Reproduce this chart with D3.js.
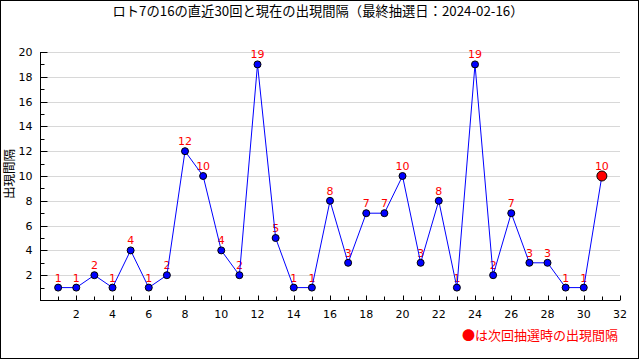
<!DOCTYPE html>
<html>
<head>
<meta charset="utf-8">
<script src="https://cdn.jsdelivr.net/npm/d3@7"></script>
<style>
  body { margin: 0; background: #fff; }
  svg { display: block; }
</style>
</head>
<body>
<div id="chart"></div>
<script>
const draws = [1,2,3,4,5,6,7,8,9,10,11,12,13,14,15,16,17,18,19,20,21,22,23,24,25,26,27,28,29,30];
const intervals = [1,1,2,1,4,1,2,12,10,4,2,19,5,1,1,8,3,7,7,10,3,8,1,19,2,7,3,3,1,1];
const nextDraw = 31;
const nextInterval = 10;
const yTicks = [2,4,6,8,10,12,14,16,18,20];
const xTicks = [2,4,6,8,10,12,14,16,18,20,22,24,26,28,30,32];

const width = 640;
const height = 360;
const margin = {top: 52, right: 20, bottom: 60, left: 40};

const svg = d3.select("#chart")
  .append("svg")
  .attr("width", width)
  .attr("height", height);

// frame
svg.append("rect")
  .attr("x", 0.5).attr("y", 0.5)
  .attr("width", 638).attr("height", 358)
  .attr("fill", "none")
  .attr("stroke", "#000");

const x = d3.scaleLinear().domain([0, 32]).range([margin.left, width - margin.right]);
const y = d3.scaleLinear().domain([0, 20]).range([height - margin.bottom, margin.top]);

const jp = "'Noto Sans CJK JP', sans-serif";
const num = "'DejaVu Sans', sans-serif";

svg.append("text")
  .attr("x", 318).attr("y", 16)
  .attr("text-anchor", "middle")
  .style("font-family", jp)
  .style("font-size", "13.3px")
  .text("ロト7の16の直近30回と現在の出現間隔（最終抽選日：2024-02-16）");

// grid
svg.append("g")
  .selectAll("line")
  .data(yTicks)
  .enter().append("line")
  .attr("x1", x(0) + 7).attr("x2", x(32))
  .attr("y1", d => Math.round(y(d)) + 0.5)
  .attr("y2", d => Math.round(y(d)) + 0.5)
  .attr("stroke", "#d8d8d8");

// y axis
const yAxis = svg.append("g")
  .attr("transform", `translate(${x(0) + 0.5},0)`);
yAxis.append("line")
  .attr("y1", y(20)).attr("y2", y(0))
  .attr("stroke", "#000");
yAxis.selectAll(".maj")
  .data(yTicks)
  .enter().append("line")
  .attr("x1", 0).attr("x2", 7)
  .attr("y1", d => Math.round(y(d)) + 0.5)
  .attr("y2", d => Math.round(y(d)) + 0.5)
  .attr("stroke", "#000");
yAxis.selectAll(".min")
  .data(d3.range(1, 20, 2))
  .enter().append("line")
  .attr("x1", 0).attr("x2", 4)
  .attr("y1", d => Math.round(y(d)) + 0.5)
  .attr("y2", d => Math.round(y(d)) + 0.5)
  .attr("stroke", "#000");
yAxis.selectAll("text")
  .data(yTicks)
  .enter().append("text")
  .attr("x", -8)
  .attr("y", d => y(d) + 4)
  .attr("text-anchor", "end")
  .style("font-family", num)
  .style("font-size", "11px")
  .text(d => d);

// x axis
const xAxis = svg.append("g")
  .attr("transform", `translate(0,${Math.round(y(0)) + 0.5})`);
xAxis.append("line")
  .attr("x1", x(0)).attr("x2", x(32))
  .attr("stroke", "#000");
xAxis.selectAll(".tick")
  .data(d3.range(1, 33))
  .enter().append("line")
  .attr("x1", d => Math.round(x(d)) + 0.5)
  .attr("x2", d => Math.round(x(d)) + 0.5)
  .attr("y1", 0)
  .attr("y2", d => d % 2 === 0 ? -5 : -4)
  .attr("stroke", "#000");
xAxis.selectAll("text")
  .data(xTicks)
  .enter().append("text")
  .attr("x", d => x(d))
  .attr("y", 17)
  .attr("text-anchor", "middle")
  .style("font-family", num)
  .style("font-size", "11px")
  .text(d => d);

// y label
svg.append("text")
  .attr("transform", "translate(14,174) rotate(-90)")
  .attr("text-anchor", "middle")
  .style("font-family", jp)
  .style("font-size", "12.5px")
  .text("出現間隔");

const pts = draws.map((d, i) => ({x: d, v: intervals[i]}));
const all = pts.concat([{x: nextDraw, v: nextInterval, next: true}]);

// value labels (under the line)
svg.append("g")
  .selectAll("text")
  .data(all)
  .enter().append("text")
  .attr("x", d => x(d.x))
  .attr("y", d => y(d.v) - 6)
  .attr("text-anchor", "middle")
  .attr("fill", "#ff0000")
  .style("font-family", num)
  .style("font-size", "11px")
  .text(d => d.v);

const line = d3.line()
  .x(d => x(d.x))
  .y(d => y(d.v));

svg.append("path")
  .datum(all)
  .attr("d", line)
  .attr("fill", "none")
  .attr("stroke", "#0000ff")
  .attr("stroke-width", 1);

svg.append("g")
  .selectAll("circle")
  .data(all)
  .enter().append("circle")
  .attr("cx", d => x(d.x))
  .attr("cy", d => y(d.v))
  .attr("r", d => d.next ? 5 : 3.5)
  .attr("fill", d => d.next ? "#ff0000" : "#0000ff")
  .attr("stroke", "#000")
  .attr("stroke-width", 1);

svg.append("text")
  .attr("x", 618).attr("y", 340)
  .attr("text-anchor", "end")
  .attr("fill", "#ff0000")
  .style("font-family", jp)
  .style("font-size", "13px")
  .text("●は次回抽選時の出現間隔");
</script>
</body>
</html>
